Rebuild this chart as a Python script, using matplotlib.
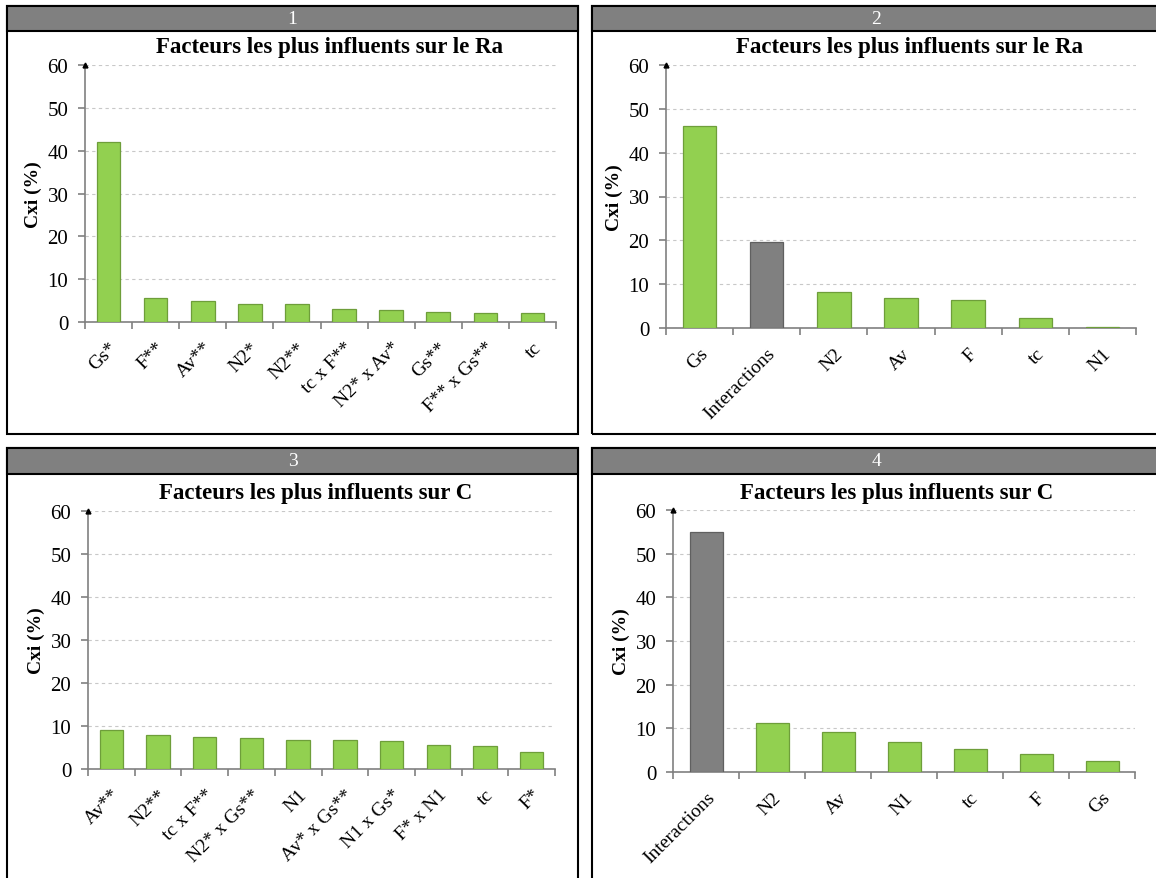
import matplotlib
matplotlib.use("Agg")
import matplotlib.pyplot as plt
from matplotlib.patches import Rectangle

plt.rcParams['font.family'] = ['Liberation Serif', 'DejaVu Serif']

W, H = 1156, 879

# ---------------- data ----------------
cats1 = ["Gs*", "F**", "Av**", "N2*", "N2**", "tc x F**", "N2* x Av*", "Gs**", "F** x Gs**", "tc"]
vals1 = [42.0, 5.5, 5.0, 4.1, 4.1, 3.0, 2.7, 2.3, 2.2, 2.1]

cats2 = ["Gs", "Interactions", "N2", "Av", "F", "tc", "N1"]
vals2 = [46.0, 19.7, 8.1, 6.9, 6.3, 2.2, 0.2]

cats3 = ["Av**", "N2**", "tc x F**", "N2* x Gs**", "N1", "Av* x Gs**", "N1 x Gs*", "F* x N1", "tc", "F*"]
vals3 = [9.0, 7.9, 7.5, 7.2, 6.8, 6.8, 6.5, 5.5, 5.3, 3.9]

cats4 = ["Interactions", "N2", "Av", "N1", "tc", "F", "Gs"]
vals4 = [55.0, 11.2, 9.2, 6.8, 5.3, 4.1, 2.5]

titles = ["Facteurs les plus influents sur le Ra", "Facteurs les plus influents sur le Ra",
          "Facteurs les plus influents sur C", "Facteurs les plus influents sur C"]
panel_nums = ["1", "2", "3", "4"]
ylabel = "Cxi (%)"
yticks = [0, 10, 20, 30, 40, 50, 60]

GREEN = "#92D050"
GREEN_EDGE = "#6E9E3A"
GRAY = "#808080"
GRAY_EDGE = "#606060"

fig = plt.figure(figsize=(W / 100, H / 100), dpi=100)


def fx(x):
    return x / W


def fy(y):
    return 1 - y / H


def panel_box(x0, x1, y0, y1, hdr_bottom, num):
    fig.patches.append(Rectangle((fx(x0), fy(y1)), fx(x1) - fx(x0), fy(y0) - fy(y1),
                                 transform=fig.transFigure, facecolor="none",
                                 edgecolor="black", linewidth=1.5, zorder=-2))
    fig.patches.append(Rectangle((fx(x0), fy(hdr_bottom)), fx(x1) - fx(x0), fy(y0) - fy(hdr_bottom),
                                 transform=fig.transFigure, facecolor=GRAY,
                                 edgecolor="black", linewidth=1.5, zorder=-1))
    fig.text(fx((x0 + x1) / 2), fy((y0 + hdr_bottom) / 2), num, color="white",
             fontsize=14, ha="center", va="center")


def make_axes(left, right, top, bottom, cats, vals, title, title_x, title_y, gray_idx=None):
    ax = fig.add_axes([fx(left), fy(bottom), fx(right) - fx(left), fy(top) - fy(bottom)])
    ax.set_zorder(3)
    ax.patch.set_alpha(0)
    n = len(cats)
    colors = [GREEN] * n
    edges = [GREEN_EDGE] * n
    if gray_idx is not None:
        colors[gray_idx] = GRAY
        edges[gray_idx] = GRAY_EDGE
    ax.bar(range(n), vals, width=0.5, color=colors, edgecolor=edges, linewidth=0.9, zorder=3)
    ax.set_xlim(-0.5, n - 0.5)
    ax.set_ylim(0, 60)
    ax.set_yticks(yticks)
    ax.set_yticklabels([str(t) for t in yticks], fontsize=15)
    ax.yaxis.grid(True, linestyle=(0, (3, 3)), color="#C8C8C8", linewidth=0.8, zorder=0)
    ax.set_axisbelow(True)
    for s in ["top", "right"]:
        ax.spines[s].set_visible(False)
    for s in ["left", "bottom"]:
        ax.spines[s].set_color(GRAY)
        ax.spines[s].set_linewidth(1.2)
    ax.set_xticks([i - 0.5 for i in range(n + 1)])
    ax.set_xticklabels([""] * (n + 1))
    ax.set_xticks(range(n), minor=True)
    ax.set_xticklabels(cats, minor=True, rotation=45, ha="right", rotation_mode="anchor",
                       fontsize=14)
    ax.tick_params(axis="x", which="major", length=5, color=GRAY, direction="out", width=1.2)
    ax.tick_params(axis="x", which="minor", length=0, pad=12)
    ax.tick_params(axis="y", length=5, color=GRAY, width=1.2, pad=7)
    ax.set_ylabel(ylabel, fontsize=14, fontweight="bold", labelpad=4)
    ax.plot([-0.5], [60], marker="^", markersize=3.5, color="black", clip_on=False, zorder=5)
    fig.text(fx(title_x), fy(title_y), title, fontsize=16.5, fontweight="bold",
             ha="center", va="center")
    return ax


panel_box(7, 578, 7, 435, 32, panel_nums[0])
panel_box(592, 1160, 7, 435, 32, panel_nums[1])
panel_box(7, 578, 449, 884, 475, panel_nums[2])
panel_box(592, 1160, 449, 884, 475, panel_nums[3])

make_axes(85, 556, 66, 323, cats1, vals1, titles[0], 330, 48)
make_axes(666, 1136, 66, 329, cats2, vals2, titles[1], 910, 48, gray_idx=1)
make_axes(88, 555, 512, 770, cats3, vals3, titles[2], 316, 493)
make_axes(673, 1135, 511, 773, cats4, vals4, titles[3], 897, 493, gray_idx=0)

fig.savefig("out.png", dpi=100)
